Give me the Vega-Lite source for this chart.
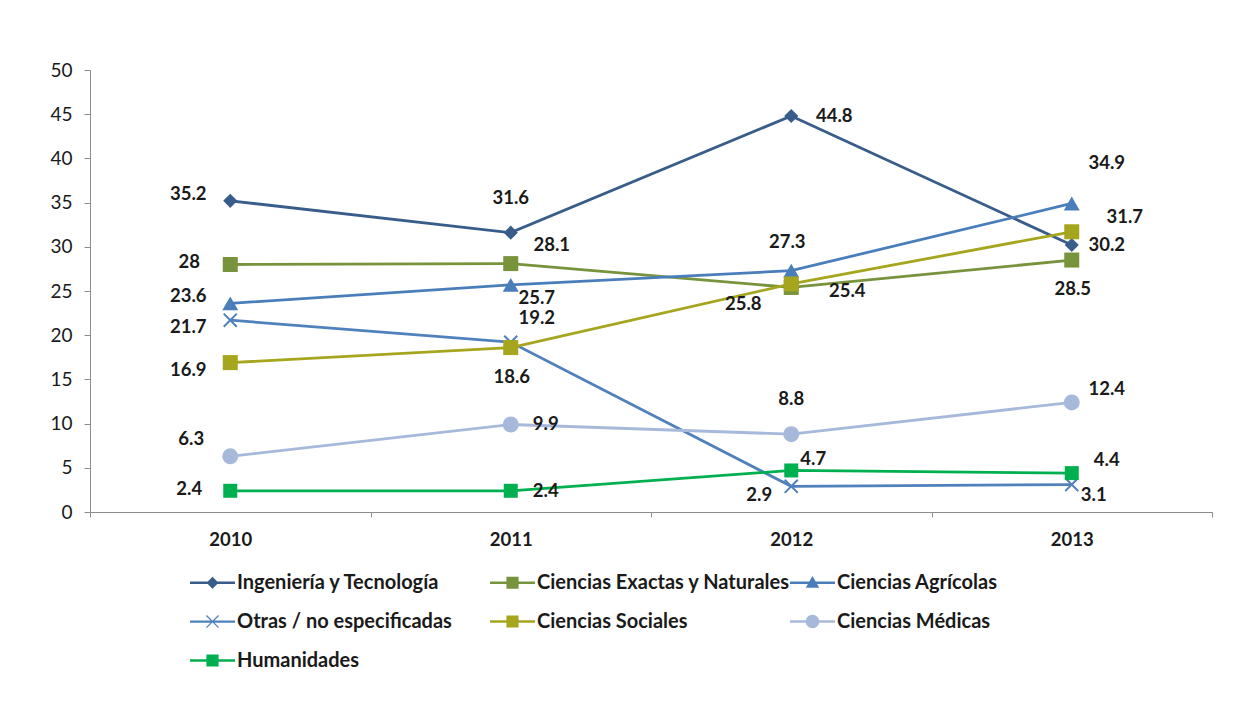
{
  "$schema": "https://vega.github.io/schema/vega-lite/v6.json",
  "width": 1122,
  "height": 442,
  "autosize": {"type": "none"},
  "padding": {"left": 90, "top": 70, "right": 42, "bottom": 207},
  "background": "white",
  "config": {
    "view": {"stroke": null},
    "font": "Lato",
    "text": {"font": "Lato", "fontWeight": "bold", "fontSize": 18.5, "color": "#1a1a1a", "baseline": "middle", "align": "center"}
  },
  "data": {"values": [
    {"series": "Ingeniería y Tecnología", "year": "2010", "value": 35.2},
    {"series": "Ingeniería y Tecnología", "year": "2011", "value": 31.6},
    {"series": "Ingeniería y Tecnología", "year": "2012", "value": 44.8},
    {"series": "Ingeniería y Tecnología", "year": "2013", "value": 30.2},
    {"series": "Ciencias Exactas y Naturales", "year": "2010", "value": 28},
    {"series": "Ciencias Exactas y Naturales", "year": "2011", "value": 28.1},
    {"series": "Ciencias Exactas y Naturales", "year": "2012", "value": 25.4},
    {"series": "Ciencias Exactas y Naturales", "year": "2013", "value": 28.5},
    {"series": "Ciencias Agrícolas", "year": "2010", "value": 23.6},
    {"series": "Ciencias Agrícolas", "year": "2011", "value": 25.7},
    {"series": "Ciencias Agrícolas", "year": "2012", "value": 27.3},
    {"series": "Ciencias Agrícolas", "year": "2013", "value": 34.9},
    {"series": "Otras / no especificadas", "year": "2010", "value": 21.7},
    {"series": "Otras / no especificadas", "year": "2011", "value": 19.2},
    {"series": "Otras / no especificadas", "year": "2012", "value": 2.9},
    {"series": "Otras / no especificadas", "year": "2013", "value": 3.1},
    {"series": "Ciencias Sociales", "year": "2010", "value": 16.9},
    {"series": "Ciencias Sociales", "year": "2011", "value": 18.6},
    {"series": "Ciencias Sociales", "year": "2012", "value": 25.8},
    {"series": "Ciencias Sociales", "year": "2013", "value": 31.7},
    {"series": "Ciencias Médicas", "year": "2010", "value": 6.3},
    {"series": "Ciencias Médicas", "year": "2011", "value": 9.9},
    {"series": "Ciencias Médicas", "year": "2012", "value": 8.8},
    {"series": "Ciencias Médicas", "year": "2013", "value": 12.4},
    {"series": "Humanidades", "year": "2010", "value": 2.4},
    {"series": "Humanidades", "year": "2011", "value": 2.4},
    {"series": "Humanidades", "year": "2012", "value": 4.7},
    {"series": "Humanidades", "year": "2013", "value": 4.4}
  ]},
  "encoding": {
    "x": {
      "field": "year", "type": "ordinal", "title": null,
      "scale": {"paddingInner": 0, "paddingOuter": 0},
      "axis": {
        "labelAngle": 0, "tickBand": "extent", "domainColor": "#8c8c8c", "tickColor": "#8c8c8c",
        "tickSize": 5, "labelFont": "Lato", "labelFontWeight": "bold", "labelFontSize": 18.5,
        "labelColor": "#1a1a1a", "labelPadding": 13, "grid": false
      }
    },
    "y": {
      "field": "value", "type": "quantitative", "title": null,
      "scale": {"domain": [0, 50], "nice": false},
      "axis": {
        "values": [0, 5, 10, 15, 20, 25, 30, 35, 40, 45, 50], "grid": false,
        "domainColor": "#8c8c8c", "tickColor": "#8c8c8c", "tickSize": 6,
        "labelFont": "Lato", "labelFontSize": 19, "labelColor": "#1a1a1a", "labelPadding": 12
      }
    }
  },
  "layer": [
    {
      "layer": [
        {
          "mark": {"type": "line", "strokeWidth": 2.8},
          "encoding": {
            "color": {"field": "series", "type": "nominal", "legend": null,
              "scale": {"domain": ["Ingeniería y Tecnología", "Ciencias Exactas y Naturales", "Ciencias Agrícolas", "Otras / no especificadas", "Ciencias Sociales", "Ciencias Médicas", "Humanidades"],
                        "range": ["#385D8A", "#77933C", "#4A7EBB", "#4F81BD", "#A5A51E", "#A7B9DA", "#00B050"]}}
          }
        },
        {
          "mark": {"type": "point", "filled": true, "opacity": 1},
          "encoding": {
            "color": {"field": "series", "type": "nominal", "legend": null},
            "shape": {"field": "series", "type": "nominal", "legend": null,
              "scale": {"domain": ["Ingeniería y Tecnología", "Ciencias Exactas y Naturales", "Ciencias Agrícolas", "Otras / no especificadas", "Ciencias Sociales", "Ciencias Médicas", "Humanidades"],
                        "range": ["diamond", "square", "triangle-up", "M-1,-0.8L-0.8,-1L1,0.8L0.8,1Z M1,-0.8L-0.8,1L-1,0.8L0.8,-1Z", "square", "circle", "square"]}},
            "size": {"field": "series", "type": "nominal", "legend": null,
              "scale": {"type": "ordinal", "domain": ["Ingeniería y Tecnología", "Ciencias Exactas y Naturales", "Ciencias Agrícolas", "Otras / no especificadas", "Ciencias Sociales", "Ciencias Médicas", "Humanidades"],
                        "range": [200, 225, 256, 210, 225, 256, 196]}}
          }
        },
        {"transform": [{"filter": "indexof(['Ingeniería y Tecnología|2010','Ciencias Agrícolas|2010'], datum.series + '|' + datum.year) >= 0"}],
         "mark": {"type": "text", "dx": -42, "dy": -7}, "encoding": {"text": {"field": "value", "type": "quantitative"}}},
        {"transform": [{"filter": "indexof(['Ciencias Exactas y Naturales|2010','Humanidades|2010'], datum.series + '|' + datum.year) >= 0"}],
         "mark": {"type": "text", "dx": -41, "dy": -2}, "encoding": {"text": {"field": "value", "type": "quantitative"}}},
        {"transform": [{"filter": "indexof(['Otras / no especificadas|2010','Ciencias Sociales|2010'], datum.series + '|' + datum.year) >= 0"}],
         "mark": {"type": "text", "dx": -42, "dy": 7}, "encoding": {"text": {"field": "value", "type": "quantitative"}}},
        {"transform": [{"filter": "indexof(['Ciencias Médicas|2010'], datum.series + '|' + datum.year) >= 0"}],
         "mark": {"type": "text", "dx": -39, "dy": -17}, "encoding": {"text": {"field": "value", "type": "quantitative"}}},
        {"transform": [{"filter": "indexof(['Ingeniería y Tecnología|2011','Ciencias Médicas|2012'], datum.series + '|' + datum.year) >= 0"}],
         "mark": {"type": "text", "dx": 0, "dy": -35}, "encoding": {"text": {"field": "value", "type": "quantitative"}}},
        {"transform": [{"filter": "indexof(['Ciencias Agrícolas|2012'], datum.series + '|' + datum.year) >= 0"}],
         "mark": {"type": "text", "dx": -4, "dy": -29}, "encoding": {"text": {"field": "value", "type": "quantitative"}}},
        {"transform": [{"filter": "indexof(['Ciencias Exactas y Naturales|2011'], datum.series + '|' + datum.year) >= 0"}],
         "mark": {"type": "text", "dx": 41, "dy": -19}, "encoding": {"text": {"field": "value", "type": "quantitative"}}},
        {"transform": [{"filter": "indexof(['Ciencias Agrícolas|2011'], datum.series + '|' + datum.year) >= 0"}],
         "mark": {"type": "text", "dx": 26, "dy": 13}, "encoding": {"text": {"field": "value", "type": "quantitative"}}},
        {"transform": [{"filter": "indexof(['Otras / no especificadas|2011'], datum.series + '|' + datum.year) >= 0"}],
         "mark": {"type": "text", "dx": 26, "dy": -24}, "encoding": {"text": {"field": "value", "type": "quantitative"}}},
        {"transform": [{"filter": "indexof(['Ciencias Sociales|2011','Ciencias Exactas y Naturales|2013'], datum.series + '|' + datum.year) >= 0"}],
         "mark": {"type": "text", "dx": 1, "dy": 29}, "encoding": {"text": {"field": "value", "type": "quantitative"}}},
        {"transform": [{"filter": "indexof(['Ciencias Médicas|2011','Humanidades|2011','Ingeniería y Tecnología|2013'], datum.series + '|' + datum.year) >= 0"}],
         "mark": {"type": "text", "dx": 35, "dy": 0}, "encoding": {"text": {"field": "value", "type": "quantitative"}}},
        {"transform": [{"filter": "indexof(['Ingeniería y Tecnología|2012'], datum.series + '|' + datum.year) >= 0"}],
         "mark": {"type": "text", "dx": 43, "dy": 0}, "encoding": {"text": {"field": "value", "type": "quantitative"}}},
        {"transform": [{"filter": "indexof(['Ciencias Sociales|2012'], datum.series + '|' + datum.year) >= 0"}],
         "mark": {"type": "text", "dx": -48, "dy": 20}, "encoding": {"text": {"field": "value", "type": "quantitative"}}},
        {"transform": [{"filter": "indexof(['Ciencias Exactas y Naturales|2012'], datum.series + '|' + datum.year) >= 0"}],
         "mark": {"type": "text", "dx": 56, "dy": 4}, "encoding": {"text": {"field": "value", "type": "quantitative"}}},
        {"transform": [{"filter": "indexof(['Humanidades|2012'], datum.series + '|' + datum.year) >= 0"}],
         "mark": {"type": "text", "dx": 22, "dy": -11}, "encoding": {"text": {"field": "value", "type": "quantitative"}}},
        {"transform": [{"filter": "indexof(['Otras / no especificadas|2012'], datum.series + '|' + datum.year) >= 0"}],
         "mark": {"type": "text", "dx": -32, "dy": 9}, "encoding": {"text": {"field": "value", "type": "quantitative"}}},
        {"transform": [{"filter": "indexof(['Ciencias Agrícolas|2013'], datum.series + '|' + datum.year) >= 0"}],
         "mark": {"type": "text", "dx": 35, "dy": -40}, "encoding": {"text": {"field": "value", "type": "quantitative"}}},
        {"transform": [{"filter": "indexof(['Ciencias Sociales|2013'], datum.series + '|' + datum.year) >= 0"}],
         "mark": {"type": "text", "dx": 53, "dy": -15}, "encoding": {"text": {"field": "value", "type": "quantitative"}}},
        {"transform": [{"filter": "indexof(['Ciencias Médicas|2013','Humanidades|2013'], datum.series + '|' + datum.year) >= 0"}],
         "mark": {"type": "text", "dx": 35, "dy": -13}, "encoding": {"text": {"field": "value", "type": "quantitative"}}},
        {"transform": [{"filter": "indexof(['Otras / no especificadas|2013'], datum.series + '|' + datum.year) >= 0"}],
         "mark": {"type": "text", "dx": 22, "dy": 10}, "encoding": {"text": {"field": "value", "type": "quantitative"}}}
      ]
    },
    {
      "mark": {"type": "point", "filled": true, "opacity": 0},
      "encoding": {
        "color": {"field": "series", "type": "nominal",
          "scale": {"domain": ["Ingeniería y Tecnología", "Ciencias Exactas y Naturales", "Ciencias Agrícolas", "Otras / no especificadas", "Ciencias Sociales", "Ciencias Médicas", "Humanidades"],
                    "range": ["#385D8A", "#77933C", "#4A7EBB", "#4F81BD", "#A5A51E", "#A7B9DA", "#00B050"]},
          "legend": {
            "title": null, "orient": "none", "legendX": 100, "legendY": 490, "direction": "horizontal",
            "columns": 3, "gridAlign": "all", "columnPadding": 0, "rowPadding": 6,
            "symbolSize": 2025, "symbolOpacity": 1, "symbolStrokeWidth": 0,
            "labelFont": "Lato", "labelFontWeight": "bold", "labelFontSize": 20, "labelColor": "#1a1a1a",
            "labelOffset": 2, "labelLimit": 400
          }},
        "shape": {"field": "series", "type": "nominal",
          "scale": {"domain": ["Ingeniería y Tecnología", "Ciencias Exactas y Naturales", "Ciencias Agrícolas", "Otras / no especificadas", "Ciencias Sociales", "Ciencias Médicas", "Humanidades"],
                    "range": [
                      "M-1,-0.06H1V0.06H-1Z M0,-0.27L0.27,0L0,0.27L-0.27,0Z",
                      "M-1,-0.06H1V0.06H-1Z M-0.27,-0.27H0.27V0.27H-0.27Z",
                      "M-1,-0.06H1V0.06H-1Z M0,-0.3L0.3,0.22H-0.3Z",
                      "M-1,-0.05H1V0.05H-1Z M-0.29,-0.25L-0.25,-0.29L0.29,0.25L0.25,0.29Z M0.25,-0.29L0.29,-0.25L-0.25,0.29L-0.29,0.25Z",
                      "M-1,-0.06H1V0.06H-1Z M-0.27,-0.27H0.27V0.27H-0.27Z",
                      "M-1,-0.06H1V0.06H-1Z M0.3,0A0.3,0.3 0 1,1 -0.3,0A0.3,0.3 0 1,1 0.3,0Z",
                      "M-1,-0.06H1V0.06H-1Z M-0.27,-0.27H0.27V0.27H-0.27Z"
                    ]},
          "legend": {
            "title": null, "orient": "none", "legendX": 100, "legendY": 490, "direction": "horizontal",
            "columns": 3, "gridAlign": "all", "columnPadding": 0, "rowPadding": 6,
            "symbolSize": 2025, "symbolOpacity": 1, "symbolStrokeWidth": 0,
            "labelFont": "Lato", "labelFontWeight": "bold", "labelFontSize": 20, "labelColor": "#1a1a1a",
            "labelOffset": 2, "labelLimit": 400
          }}
      }
    }
  ],
  "resolve": {"scale": {"color": "independent", "shape": "independent"}}
}
